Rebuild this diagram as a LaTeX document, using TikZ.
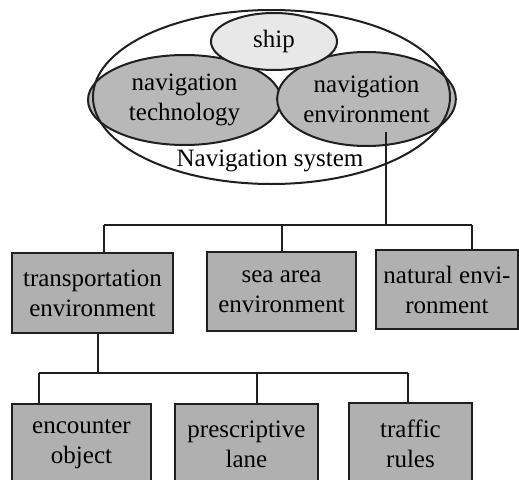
\documentclass[tikz,border=0pt]{standalone}
\usepackage{fontspec}
\setmainfont{Liberation Serif}
\usetikzlibrary{shapes.geometric}
\definecolor{linegray}{gray}{0.12}
\definecolor{boxgray}{gray}{0.69}
\definecolor{ovalgray}{gray}{0.72}
\definecolor{shipgray}{gray}{0.91}
\begin{document}
\begin{tikzpicture}[x=1pt,y=-1pt,
  every node/.style={font=\fontsize{25}{30}\selectfont, align=center, text=black},
  oval/.style={ellipse, draw=linegray, line width=2pt, inner sep=0pt},
  itembox/.style={rectangle, draw=linegray, line width=2pt, fill=boxgray, inner sep=0pt},
  link/.style={draw=linegray, line width=2pt}]
\useasboundingbox (0,0) rectangle (519,479);
\clip (0,0) rectangle (519,479);

% the navigation system and its parts
\node[oval, fill=ovalgray, minimum width=193, minimum height=90] (tech) at (184.5,100) {navigation\\technology};
\node[oval, fill=ovalgray, minimum width=169, minimum height=94] (env) at (366.5,99) {navigation\\environment};
\node[oval, fill=shipgray, minimum width=126, minimum height=57] (ship) at (274,41.5) {ship};
\node[oval, minimum width=357, minimum height=174] (sys) at (271.5,97) {};
\node[anchor=base] (syslabel) at (270,166) {Navigation system};

% first level of the environment tree
\node[itembox, minimum width=161, minimum height=80] (transp) at (92.5,293) {transportation\\environment};
\node[itembox, minimum width=149, minimum height=79] (sea) at (281.5,291.5) {sea area\\environment};
\node[itembox, minimum width=142, minimum height=79] (natural) at (447,289.5) {natural envi-\\ronment};

% second level under the transportation environment
\node[itembox, minimum width=139, minimum height=81] (encounter) at (81.5,444.5) {encounter\\object};
\node[itembox, minimum width=143, minimum height=81] (lane) at (246.5,444.5) {prescriptive\\lane};
\node[itembox, minimum width=123, minimum height=81] (rules) at (410.5,443.5) {traffic\\rules};

% connectors
\coordinate (envfoot) at (386,132);
\coordinate (busA) at (104,225);
\coordinate (busB) at (282,225);
\coordinate (busC) at (472,225);
\coordinate (busD) at (386,225);
\draw[link] (envfoot) -- (busD);
\draw[link] (busA) -- (busC);
\draw[link] (busA) -- (busA |- transp.north);
\draw[link] (busB) -- (busB |- sea.north);
\draw[link] (busC) -- (busC |- natural.north);

\coordinate (transpfoot) at (98,333);
\coordinate (lowA) at (39,373);
\coordinate (lowB) at (257,373);
\coordinate (lowC) at (408,373);
\coordinate (lowD) at (98,373);
\draw[link] (transpfoot) -- (lowD);
\draw[link] (lowA) -- (lowC);
\draw[link] (lowA) -- (lowA |- encounter.north);
\draw[link] (lowB) -- (lowB |- lane.north);
\draw[link] (lowC) -- (lowC |- rules.north);
\end{tikzpicture}
\end{document}
